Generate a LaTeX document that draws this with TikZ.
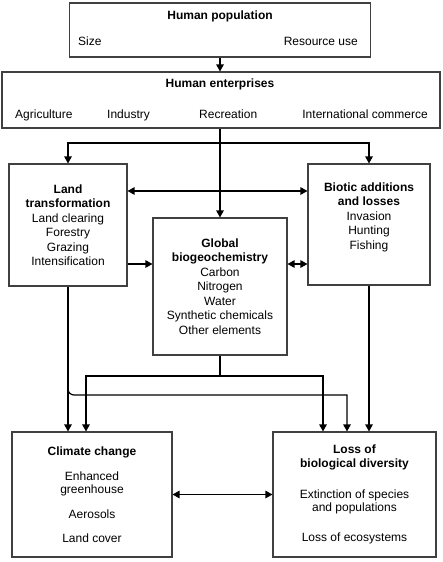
\documentclass[tikz,border=0pt]{standalone}
\usepackage{fontspec}
\setmainfont{Liberation Sans}
\usetikzlibrary{arrows.meta,positioning}

\begin{document}
\begin{tikzpicture}[x=1pt, y=-1pt,
    box/.style={draw=black!75, line width=1.1pt, align=center, inner sep=0pt, font=\fontsize{12}{14.5}\selectfont},
    lowbox/.style={box, font=\fontsize{12}{13.5}\selectfont},
    txt/.style={inner sep=0pt, align=center, font=\fontsize{12}{14.5}\selectfont},
    arr/.style={-{Triangle[length=7pt,width=7.5pt]}, line width=1.2pt},
    darr/.style={{Triangle[length=7pt,width=7.5pt]}-{Triangle[length=7pt,width=7.5pt]}, line width=1.2pt},
    link/.style={line width=1.2pt}
]
    \useasboundingbox (0,0) rectangle (442,562);

    % drivers
    \node[box, minimum width=301pt, minimum height=54pt] (pop) at (220,30) {};
    \node[txt, anchor=base] (poptitle) at (220,19.5) {\textbf{Human population}};
    \node[txt, anchor=base west] (size) at (78,45.5) {Size};
    \node[txt, anchor=base east] (resource) at (358,45.5) {Resource use};

    \node[box, minimum width=438pt, minimum height=56pt] (ent) at (221,100) {};
    \node[txt, anchor=base] (enttitle) at (220,87) {\textbf{Human enterprises}};
    \node[txt, anchor=base west] (agri) at (15,118.5) {Agriculture};
    \node[txt, anchor=base west] (industry) at (107,118.5) {Industry};
    \node[txt, anchor=base west] (recreation) at (199,118.5) {Recreation};
    \node[txt, anchor=base east] (commerce) at (428,118.5) {International commerce};

    % human impacts
    \node[box, minimum width=118pt, minimum height=122pt] (land) at (68,225) {\textbf{Land}\\\textbf{transformation}\\Land clearing\\Forestry\\Grazing\\Intensification};
    \node[box, minimum width=134pt, minimum height=137pt] (global) at (220,286.5) {\textbf{Global}\\\textbf{biogeochemistry}\\Carbon\\Nitrogen\\Water\\Synthetic chemicals\\Other elements};
    \node[box, minimum width=122pt, minimum height=121pt] (biotic) at (369,224.5) {};
    \node[txt, below=19pt of biotic.north] (biotictext) {\textbf{Biotic additions}\\\textbf{and losses}\\Invasion\\Hunting\\Fishing};

    % global changes
    \node[lowbox, minimum width=160pt, minimum height=125pt] (climate) at (92,494.5) {\textbf{Climate change}\\[11.2pt]Enhanced\\greenhouse\\[11.5pt]Aerosols\\[9.8pt]Land cover};
    \node[lowbox, minimum width=163pt, minimum height=125pt] (loss) at (354.5,494.5) {\textbf{Loss of}\\\textbf{biological diversity}\\[17.5pt]Extinction of species\\and populations\\[16.5pt]Loss of ecosystems};

    % junctions
    \coordinate (ejoin) at (global.north |- 0,143);
    \coordinate (gjoin) at (global.south |- 0,376);
    \coordinate (lbend) at (land.south |- 0,395);

    \draw[arr] (pop.south) -- (pop.south |- ent.north);
    \draw[arr] (global.north |- ent.south) -- (global.north);
    \draw[arr] (ejoin) -| (land.north);
    \draw[arr] (ejoin) -| (biotic.north);

    \draw[darr] ([yshift=34pt]land.east) -- ([yshift=34pt]land.east -| biotic.west);
    \draw[arr] ([yshift=-39pt]land.east) -- ([yshift=-39pt]land.east -| global.west);
    \draw[darr] ([yshift=-39pt]land.east -| global.east) -- ([yshift=-39pt]land.east -| biotic.west);

    \draw[arr] (land.south) -- (land.south |- climate.north);
    \draw[arr, rounded corners=6pt] (land.south |- 0,370) -- (lbend) -- ([xshift=-60pt]lbend -| loss.north) [sharp corners] -| ([xshift=-7.5pt]loss.north);
    \draw[link] (global.south) -- (gjoin);
    \draw[arr] (gjoin) -| ([xshift=-6pt]climate.north);
    \draw[arr] (gjoin) -| ([xshift=-31.5pt]loss.north);
    \draw[arr] (biotic.south) -- (biotic.south |- loss.north);

    \draw[darr] (climate.east) -- (loss.west);
\end{tikzpicture}
\end{document}
